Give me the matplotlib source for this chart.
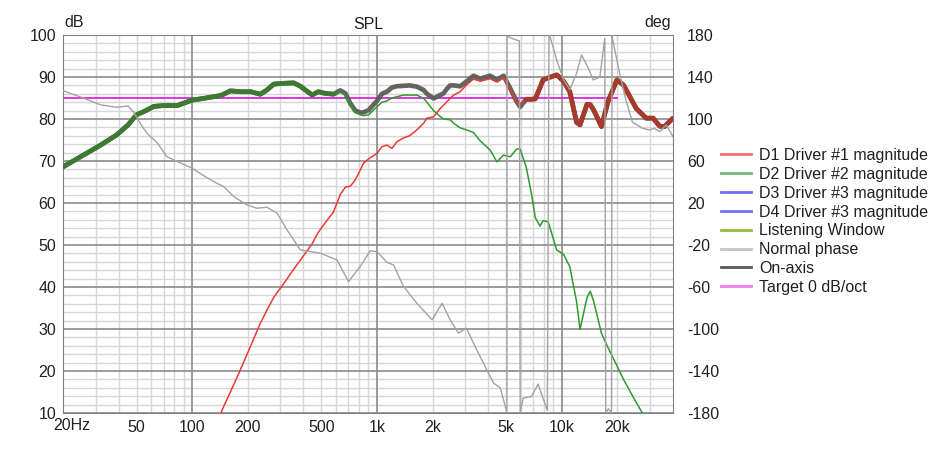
import numpy as np
import matplotlib
matplotlib.use('Agg')
import matplotlib.pyplot as plt
from matplotlib.lines import Line2D
from matplotlib.ticker import MultipleLocator, NullLocator

plt.rcParams['font.family'] = ['Liberation Sans', 'DejaVu Sans']
plt.rcParams['axes.unicode_minus'] = False

# Magnitude curves (Hz / dB)
freq = [20, 26, 32, 39, 45, 50, 55, 62, 70, 83, 100, 115, 143, 148, 161, 182, 207, 234,
        254, 276, 313, 354, 385, 446, 481, 525, 582, 633, 675, 718, 763, 815, 847, 901,
        1000, 1064, 1132, 1205, 1283, 1393, 1500, 1645, 1788, 1864, 2024, 2200, 2292,
        2391, 2491, 2600, 2820, 3050, 3328, 3620, 4098, 4459, 4843, 5262, 5710, 5958,
        6420, 6850, 7190, 7630, 7920, 8450, 9390, 10230, 11060, 12030, 12560, 13700,
        14270, 14900, 16400, 17780, 19870, 21580, 25300, 28600, 31200, 33860, 35990, 40000]

on_axis = [68.6, 71.5, 73.8, 76.2, 78.6, 81.0, 81.8, 83.0, 83.2, 83.2, 84.5, 84.9, 85.6,
           85.9, 86.7, 86.5, 86.5, 85.9, 86.9, 88.3, 88.5, 88.6, 87.8, 85.7, 86.5, 86.1,
           85.9, 86.8, 86.1, 83.7, 82.0, 81.5, 81.6, 82.1, 84.3, 86.0, 86.5, 87.5, 87.8,
           87.9, 88.0, 87.7, 86.9, 86.0, 84.9, 85.7, 86.1, 87.2, 88.0, 88.0, 87.8, 88.9,
           90.3, 89.6, 90.3, 89.3, 90.3, 87.3, 84.1, 82.9, 84.7, 84.7, 84.8, 87.5, 89.3,
           89.8, 90.5, 89.0, 86.5, 79.2, 78.6, 83.5, 83.4, 82.1, 78.2, 84.1, 89.3, 88.1,
           82.5, 80.2, 80.2, 78.3, 78.2, 80.2]

d1_mag = [np.nan] * 12 + [
    10.0, 11.5, 15.0, 20.2, 25.9, 31.4, 34.5, 37.5, 40.8, 44.2, 46.4, 50.3, 53.0, 55.3,
    57.9, 62.0, 63.8, 64.0, 65.5, 68.0, 69.5, 70.5, 71.8, 73.4, 73.8, 73.0, 74.6, 75.5,
    76.0, 77.4, 79.0, 80.2, 80.5, 82.5, 83.3, 84.1, 84.9, 85.7, 86.5, 88.1, 89.5, 89.0,
    89.6, 88.8, 89.8, 87.0, 84.0, 83.2, 84.7, 84.7, 84.8, 87.5, 89.3, 89.8, 90.5, 89.0,
    86.5, 79.2, 78.6, 83.5, 83.4, 82.1, 78.2, 84.1, 89.3, 88.1, 82.5, 80.2, 80.2, 78.3,
    78.2, 80.2]

d2_mag = [68.6, 71.5, 73.8, 76.2, 78.6, 81.0, 81.8, 83.0, 83.2, 83.2, 84.5, 84.9, 85.6,
          85.9, 86.7, 86.5, 86.5, 85.9, 86.9, 88.3, 88.5, 88.6, 87.8, 85.7, 86.5, 86.1,
          85.9, 86.5, 85.6, 83.2, 81.5, 81.0, 80.8, 81.0, 82.9, 84.0, 84.3, 85.0, 85.3,
          85.7, 85.7, 85.7, 84.9, 84.0, 82.0, 80.6, 80.0, 79.9, 79.8, 79.0, 77.9, 77.4,
          76.8, 74.8, 72.6, 69.8, 71.4, 71.0, 72.9, 72.8, 68.6, 62.3, 56.5, 54.5, 55.8,
          55.5, 48.8, 47.8, 44.8, 36.5, 29.9, 37.5, 39.0, 36.5, 29.0, 25.6, 21.3, 18.0,
          12.5, 8.5, np.nan, np.nan, np.nan, np.nan]

# Normal phase (Hz / deg), wrapped like the original
phase_freq = [20, 26, 32, 39, 45, 48, 53, 57, 65, 73, 87, 100, 110, 131, 148, 168, 198,
              224, 254, 288, 326, 385, 437, 494, 607, 702, 815, 920, 1000, 1132, 1230,
              1393, 1645, 1988, 2252, 2491, 2756, 3050, 3328, 3770, 4276, 4650, 4843,
              5050, 5060, 5500, 5900, 5958, 6180, 6850, 7450, 7920, 8360, 8530, 8650,
              9390, 10230, 11060, 12030, 12800, 13970, 14800, 16070, 17100, 17300,
              17900, 18600, 18700, 18900, 20470, 22240, 24130, 27380, 29870, 31690,
              33860, 36770, 40000]
phase = [127.0, 119.7, 113.4, 111.2, 112.4, 107.0, 94.3, 86.4, 76.9, 64.1, 57.9, 53.1,
         48.3, 40.3, 35.6, 26.1, 18.2, 15.0, 16.0, 10.3, -5.6, -24.7, -26.3, -27.8,
         -34.2, -54.9, -40.0, -25.5, -26.3, -36.5, -39.0, -59.6, -75.5, -91.3, -75.5,
         -91.3, -104.0, -99.2, -113.5, -132.6, -151.6, -156.0, -167.5, -179.5, 179.0,
         176.0, 174.5, -179.5, -165.9, -164.3, -152.5, -165.9, -177.5, 179.5, 178.4,
         156.2, 137.2, 128.0, 143.5, 161.0, 148.0, 137.2, 140.0, 176.8, -179.5, -176.0,
         -179.5, 179.5, 175.0, 145.1, 118.1, 97.0, 91.2, 89.6, 91.2, 88.0, 94.3, 83.2]

target_freq = [20, 20000]
target = [85, 85]

xtick_vals = [20, 50, 100, 200, 500, 1000, 2000, 5000, 10000, 20000]
xtick_labels = ['20Hz', '50', '100', '200', '500', '1k', '2k', '5k', '10k', '20k']

f = np.array(freq)
on = np.array(on_axis)
d1 = np.array(d1_mag)
d2 = np.array(d2_mag)

fig = plt.figure(figsize=(9.53, 4.51), dpi=100)
ax = fig.add_axes([63 / 953, 1 - 413 / 451, 610 / 953, 378 / 451])

ax.set_xscale('log')
ax.set_xlim(20, 40000)
ax.set_ylim(10, 100)

# grid: decades dark, 2..9 light; dB every 10 dark, every 2 light
ax.yaxis.set_major_locator(MultipleLocator(10))
ax.yaxis.set_minor_locator(MultipleLocator(2))
ax.grid(axis='y', which='minor', color='#d6d6d6', lw=1.0, zorder=0.5)
ax.grid(axis='y', which='major', color='#8a8a8a', lw=1.2, zorder=0.7)
for e in range(1, 5):
    for k in range(2, 10):
        if 20 < k * 10 ** e < 40000:
            ax.axvline(k * 10 ** e, color='#d6d6d6', lw=1.0, zorder=0.4)
for dec in [100, 1000, 10000]:
    ax.axvline(dec, color='#8a8a8a', lw=1.2, zorder=0.8)
ax.set_axisbelow(True)

ax.set_xticks(xtick_vals)
ax.set_xticklabels(xtick_labels)
ax.xaxis.set_minor_locator(NullLocator())
ax.xaxis.get_major_ticks()[0].label1.set_visible(False)
ax.annotate('20Hz', xy=(20, 0), xycoords=('data', 'axes fraction'), xytext=(-10, -5),
            textcoords='offset pixels', ha='left', va='top', fontsize=11.5, color='#202020')

ax.tick_params(which='both', length=0, labelsize=11.5, colors='#202020', pad=5)
for sp in ax.spines.values():
    sp.set_color('#808080')

ax.plot(target_freq, target, color='#e020e0', lw=1.3, zorder=3)

# on-axis thick, then driver curves, then the parts where they coincide
ax.plot(f, on, color='#5c5c58', lw=3.4, alpha=0.95, zorder=4, solid_capstyle='round')
ax.plot(f, d2, color='#2e9a2e', lw=1.1, zorder=5)
ax.plot(f, d1, color='#e83a34', lw=1.1, zorder=5)
same2 = np.where(np.isclose(d2, on, atol=0.05), on, np.nan)
same1 = np.where(np.isclose(d1, on, atol=0.05), on, np.nan)
ax.plot(f, same2, color='#3c7a30', lw=3.4, zorder=6, solid_capstyle='round')
ax.plot(f, same1, color='#a83a2c', lw=3.4, zorder=6, solid_capstyle='round')

ax2 = ax.twinx()
ax2.set_ylim(-180, 180)
ax2.set_yticks(np.arange(-180, 181, 40))
ax2.tick_params(length=0, labelsize=11.5, colors='#202020', pad=10)
for sp in ax2.spines.values():
    sp.set_visible(False)
ax2.plot(phase_freq, phase, color='#a2a2a2', lw=1.0, zorder=2)

ax.set_title('SPL', fontsize=11.5, color='#202020', pad=4)
ax.text(0.003, 1.012, 'dB', transform=ax.transAxes, fontsize=11.5, color='#202020',
        ha='left', va='bottom')
ax.text(0.997, 1.012, 'deg', transform=ax.transAxes, fontsize=11.5, color='#202020',
        ha='right', va='bottom')

handles = [
    Line2D([], [], color='#f07070', lw=2, label='D1 Driver #1 magnitude'),
    Line2D([], [], color='#70b870', lw=2, label='D2 Driver #2 magnitude'),
    Line2D([], [], color='#7070f0', lw=2, label='D3 Driver #3 magnitude'),
    Line2D([], [], color='#7070f0', lw=2, label='D4 Driver #3 magnitude'),
    Line2D([], [], color='#8cc03c', lw=2, label='Listening Window'),
    Line2D([], [], color='#c4c4c4', lw=2, label='Normal phase'),
    Line2D([], [], color='#5a5a5a', lw=2, label='On-axis'),
    Line2D([], [], color='#f07cf0', lw=2, label='Target 0 dB/oct'),
]
fig.legend(handles=handles, loc='upper left', bbox_to_anchor=(721 / 953, 1 - 148 / 451),
           frameon=False, fontsize=11.5, handlelength=1.9, handletextpad=0.5,
           labelspacing=0.24, borderpad=0, borderaxespad=0, labelcolor='#202020')

fig.savefig('out.png', dpi=100)
